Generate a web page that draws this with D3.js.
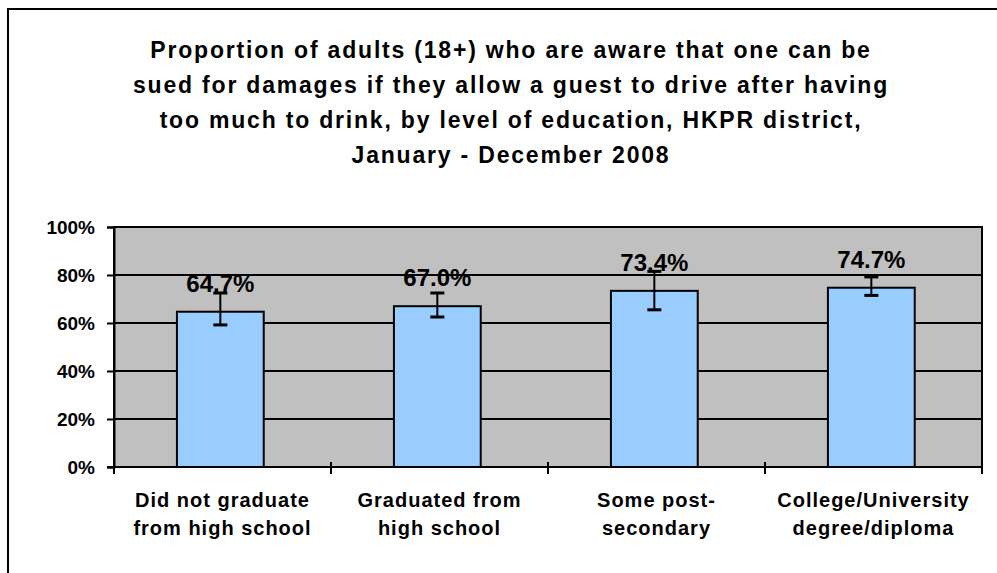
<!DOCTYPE html>
<html>
<head>
<meta charset="utf-8">
<script src="https://cdn.jsdelivr.net/npm/d3@7"></script>
<style>
  body { margin: 0; background: #fff; }
  svg { display: block; font-family: "Liberation Sans", Arial, sans-serif; }
</style>
</head>
<body>
<div id="chart"></div>
<script>
var width = 997,
    height = 573;

// data
var categories = [
    ["Did not graduate", "from high school"],
    ["Graduated from", "high school"],
    ["Some post-", "secondary"],
    ["College/University", "degree/diploma"]
];
var values = [0.647, 0.670, 0.734, 0.747];
var errLow = [0.592, 0.625, 0.655, 0.715];
var errHigh = [0.725, 0.725, 0.815, 0.792];
var yTicks = [0, 0.2, 0.4, 0.6, 0.8, 1.0];
var titleLines = [
    "Proportion of adults (18+) who are aware that one can be",
    "sued for damages if they allow a guest to drive after having",
    "too much to drink, by level of education, HKPR district,",
    "January - December 2008"
];

var plot = { left: 114, right: 982, top: 227, bottom: 467 };

var svg = d3.select("#chart")
    .append("svg")
    .attr("width", width)
    .attr("height", height);

// chart frame
svg.append("rect")
    .attr("x", 8)
    .attr("y", 9)
    .attr("width", 1100)
    .attr("height", 700)
    .attr("fill", "#fff")
    .attr("stroke", "#000")
    .attr("stroke-width", 2);

// title
var title = svg.append("text")
    .attr("text-anchor", "middle")
    .style("font-size", "23px")
    .style("font-weight", "bold")
    .style("letter-spacing", "1.8px");
titleLines.forEach(function(t, i) {
    title.append("tspan")
        .attr("x", 511)
        .attr("y", 58 + i * 35)
        .text(t);
});

var x = d3.scaleBand()
    .domain(d3.range(categories.length))
    .range([plot.left, plot.right])
    .paddingInner(0)
    .paddingOuter(0);

var y = d3.scaleLinear()
    .domain([0, 1])
    .range([plot.bottom, plot.top]);

// plot area
svg.append("rect")
    .attr("x", plot.left)
    .attr("y", plot.top)
    .attr("width", plot.right - plot.left)
    .attr("height", plot.bottom - plot.top)
    .attr("fill", "#c0c0c0");

// gridlines
svg.selectAll("line.grid")
    .data(yTicks.slice(1))
    .enter().append("line")
    .attr("class", "grid")
    .attr("x1", plot.left)
    .attr("x2", plot.right)
    .attr("y1", function(d) { return Math.round(y(d)); })
    .attr("y2", function(d) { return Math.round(y(d)); })
    .attr("stroke", "#000")
    .attr("stroke-width", 2);

// plot border (left / right / top)
svg.append("path")
    .attr("d", "M" + plot.left + "," + plot.bottom + "V" + plot.top + "H" + plot.right + "V" + plot.bottom)
    .attr("fill", "none")
    .attr("stroke", "#000")
    .attr("stroke-width", 2);

// bars
var bw = x.bandwidth() * 0.4;
svg.selectAll("rect.bar")
    .data(values)
    .enter().append("rect")
    .attr("class", "bar")
    .attr("x", function(d, i) { return x(i) + x.bandwidth() * 0.29; })
    .attr("y", function(d) { return y(d); })
    .attr("width", bw)
    .attr("height", function(d) { return y(0) - y(d); })
    .attr("fill", "#99ccff")
    .attr("stroke", "#000")
    .attr("stroke-width", 2);

// error bars
var err = svg.selectAll("g.err")
    .data(values)
    .enter().append("g")
    .attr("class", "err")
    .attr("transform", function(d, i) { return "translate(" + (x(i) + x.bandwidth() * 0.29 + bw / 2) + ",0)"; });
err.append("line")
    .attr("y1", function(d, i) { return y(errLow[i]); })
    .attr("y2", function(d, i) { return y(errHigh[i]); })
    .attr("stroke", "#000")
    .attr("stroke-width", 2);
err.append("line")
    .attr("x1", -7).attr("x2", 7)
    .attr("y1", function(d, i) { return y(errLow[i]); })
    .attr("y2", function(d, i) { return y(errLow[i]); })
    .attr("stroke", "#000")
    .attr("stroke-width", 3);
err.append("line")
    .attr("x1", -7).attr("x2", 7)
    .attr("y1", function(d, i) { return y(errHigh[i]); })
    .attr("y2", function(d, i) { return y(errHigh[i]); })
    .attr("stroke", "#000")
    .attr("stroke-width", 3);

// value labels
svg.selectAll("text.val")
    .data(values)
    .enter().append("text")
    .attr("class", "val")
    .attr("x", function(d, i) { return x(i) + x.bandwidth() * 0.29 + bw / 2; })
    .attr("y", function(d) { return y(d) - 20; })
    .attr("text-anchor", "middle")
    .style("font-size", "24px")
    .style("font-weight", "bold")
    .text(function(d) { return d3.format(".1%")(d); });

// y axis
var yAxis = d3.axisLeft(y)
    .tickValues(yTicks)
    .tickSize(7)
    .tickPadding(12)
    .tickFormat(d3.format(".0%"));
var gy = svg.append("g")
    .attr("transform", "translate(" + plot.left + ",0)")
    .call(yAxis);
gy.select(".domain").attr("stroke-width", 2);
gy.selectAll(".tick line").attr("stroke-width", 2);
gy.selectAll(".tick text")
    .style("font-size", "19px")
    .style("font-weight", "bold")
    .style("font-family", "'Liberation Sans', Arial, sans-serif")
    .attr("fill", "#000");

// x axis baseline and cross ticks
svg.append("line")
    .attr("x1", plot.left - 7)
    .attr("x2", plot.right)
    .attr("y1", plot.bottom)
    .attr("y2", plot.bottom)
    .attr("stroke", "#000")
    .attr("stroke-width", 2);
var xBounds = d3.range(categories.length + 1).map(function(i) {
    return i < categories.length ? x(i) : plot.right;
});
svg.selectAll("line.xtick")
    .data(xBounds)
    .enter().append("line")
    .attr("class", "xtick")
    .attr("x1", function(d) { return d; })
    .attr("x2", function(d) { return d; })
    .attr("y1", plot.bottom - 5)
    .attr("y2", plot.bottom + 7)
    .attr("stroke", "#000")
    .attr("stroke-width", 2);

// category labels
var catText = svg.selectAll("text.cat")
    .data(categories)
    .enter().append("text")
    .attr("class", "cat")
    .attr("text-anchor", "middle")
    .style("font-size", "20px")
    .style("font-weight", "bold")
    .style("letter-spacing", "1px");
catText.each(function(lines, i) {
    var t = d3.select(this);
    lines.forEach(function(l, j) {
        t.append("tspan")
            .attr("x", x(i) + x.bandwidth() / 2)
            .attr("y", 507 + j * 28)
            .text(l);
    });
});
</script>
</body>
</html>
